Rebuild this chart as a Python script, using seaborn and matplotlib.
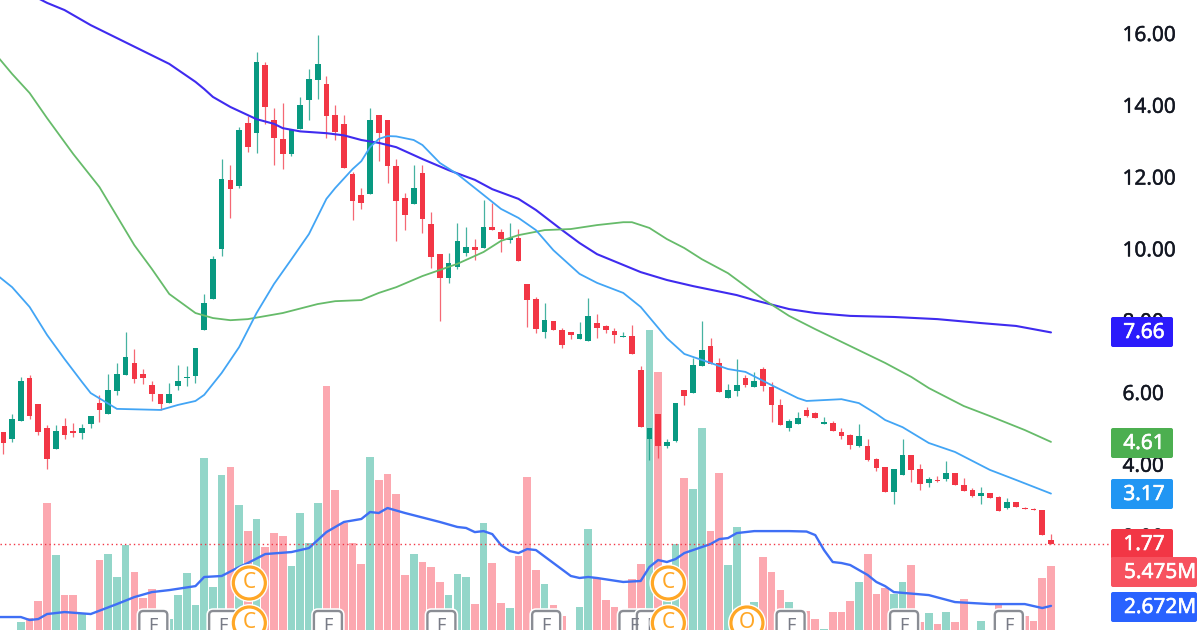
import matplotlib
matplotlib.use("Agg")
import matplotlib.pyplot as plt
import matplotlib.patheffects as pe
from matplotlib.patches import FancyBboxPatch, Circle
from matplotlib.transforms import IdentityTransform
import pandas as pd
import seaborn as sns

opens = [4.89, 4.70, 5.20, 6.40, 5.66, 5.00, 4.42, 5.06, 4.90, 4.85,
         5.10, 5.68, 5.38, 6.04, 6.47, 6.80, 6.49, 6.20, 5.95, 5.70,
         6.17, 6.38, 6.44, 7.73, 8.59, 9.98, 11.91, 11.74, 13.49, 13.21,
         15.11, 13.58, 13.05, 12.63, 13.33, 14.13, 14.69, 14.58, 13.72, 13.47,
         12.07, 11.49, 11.52, 13.72, 13.58, 12.30, 11.40, 11.24, 12.10, 10.68,
         9.84, 9.17, 9.48, 9.87, 10.04, 10.01, 10.60, 10.46, 10.23, 10.29,
         9.01, 8.59, 7.67, 7.98, 7.73, 7.67, 7.48, 7.42, 7.92, 7.84,
         7.70, 7.53, 7.56, 6.61, 4.69, 5.39, 4.49, 4.63, 6.05, 5.97,
         6.72, 7.28, 6.81, 5.83, 6.03, 6.39, 6.14, 6.64, 6.14, 5.64,
         5.00, 5.11, 5.50, 5.41, 5.11, 5.14, 4.88, 4.80, 4.49, 4.49,
         4.13, 3.91, 3.21, 3.69, 4.24, 3.85, 3.46, 3.55, 3.58, 3.74,
         3.41, 3.27, 3.10, 3.19, 3.07, 2.77, 2.93, 2.77, 2.74, 2.71, 1.88]
highs = [4.89, 5.38, 6.43, 6.46, 5.66, 5.09, 5.09, 5.27, 5.13, 5.11,
         5.34, 5.92, 6.49, 6.80, 7.67, 7.21, 6.64, 6.30, 5.95, 6.24,
         6.74, 6.73, 7.23, 8.73, 9.79, 12.49, 12.32, 13.38, 13.69, 15.47,
         15.19, 13.91, 14.05, 13.30, 14.22, 15.00, 15.94, 14.80, 13.99, 13.72,
         12.13, 11.68, 13.91, 13.72, 13.58, 12.49, 11.54, 12.32, 12.32, 11.01,
         9.84, 9.87, 10.71, 10.60, 10.26, 11.35, 11.26, 10.54, 10.71, 10.54,
         9.01, 8.65, 8.48, 7.98, 7.78, 7.67, 7.95, 8.62, 8.17, 7.87,
         7.78, 7.67, 7.87, 6.72, 5.00, 5.39, 4.69, 5.69, 6.05, 6.95,
         7.98, 7.50, 6.95, 6.22, 6.92, 6.47, 6.56, 6.70, 6.28, 5.80,
         5.25, 5.44, 5.58, 5.44, 5.30, 5.19, 5.00, 4.83, 5.11, 4.69,
         4.16, 3.91, 3.85, 4.69, 4.24, 3.99, 3.63, 3.66, 4.08, 3.74,
         3.60, 3.32, 3.35, 3.19, 3.10, 3.05, 2.93, 2.79, 2.77, 2.71, 2.04]
lows = [4.26, 4.61, 5.20, 5.26, 4.79, 3.86, 4.42, 4.70, 4.75, 4.70,
        5.00, 5.16, 5.38, 5.91, 6.47, 6.26, 6.22, 5.76, 5.50, 5.70,
        6.06, 6.17, 6.26, 7.73, 8.59, 9.79, 10.85, 11.68, 12.69, 12.66,
        13.47, 12.32, 12.21, 12.57, 13.33, 13.58, 14.16, 13.08, 13.02, 12.24,
        10.79, 11.10, 11.52, 12.43, 11.82, 10.21, 10.51, 11.24, 10.43, 9.45,
        7.98, 9.04, 9.43, 9.79, 9.68, 10.01, 10.51, 9.90, 10.15, 9.65,
        7.81, 7.64, 7.50, 7.73, 7.22, 7.48, 7.48, 7.42, 7.50, 7.64,
        7.36, 7.53, 7.06, 5.02, 4.10, 4.16, 4.44, 4.61, 5.64, 5.97,
        6.72, 6.78, 6.00, 5.83, 5.89, 6.14, 6.14, 6.03, 5.16, 5.08,
        4.91, 5.11, 5.30, 5.27, 5.11, 4.91, 4.69, 4.41, 4.47, 4.08,
        3.80, 3.21, 2.88, 3.69, 3.49, 3.27, 3.35, 3.49, 3.52, 3.41,
        3.24, 3.07, 2.88, 3.05, 2.68, 2.74, 2.79, 2.74, 2.71, 2.02, 1.77]
closes = [4.57, 5.24, 6.31, 5.34, 4.88, 4.14, 4.90, 4.79, 4.85, 5.00,
          5.34, 5.51, 6.05, 6.49, 6.98, 6.37, 6.38, 5.94, 5.66, 5.95,
          6.30, 6.41, 7.23, 8.49, 9.70, 11.93, 11.65, 13.30, 12.82, 15.19,
          13.94, 13.08, 12.63, 13.30, 13.99, 14.72, 15.14, 13.69, 13.24, 12.24,
          11.32, 11.26, 13.58, 13.21, 12.30, 11.32, 10.93, 11.68, 10.82, 9.76,
          9.17, 9.59, 10.21, 10.04, 9.95, 10.60, 10.51, 10.26, 10.29, 9.65,
          8.56, 7.75, 8.00, 7.73, 7.31, 7.59, 7.61, 8.12, 7.78, 7.73,
          7.59, 7.56, 7.06, 5.02, 5.00, 4.49, 4.61, 5.69, 5.89, 6.75,
          7.17, 6.78, 6.00, 6.05, 6.19, 6.19, 6.31, 6.17, 5.64, 5.08,
          5.19, 5.27, 5.33, 5.27, 5.16, 4.91, 4.77, 4.52, 4.77, 4.10,
          3.88, 3.21, 3.85, 4.24, 3.83, 3.44, 3.58, 3.52, 3.74, 3.41,
          3.24, 3.10, 3.19, 3.05, 2.68, 2.93, 2.79, 2.74, 2.71, 2.02, 1.77]
volumes = [0.30, 0.30, 1.54, 1.82, 3.02, 9.89, 6.24, 3.43, 3.43, 2.17,
           0.28, 5.89, 6.31, 4.70, 6.95, 5.05, 3.22, 3.86, 1.12, 1.75,
           3.43, 4.98, 2.73, 13.05, 4.00, 11.85, 12.42, 9.75, 7.93, 8.77,
           6.80, 7.78, 7.57, 5.47, 9.19, 7.08, 9.89, 18.10, 10.80, 8.49,
           7.08, 5.61, 13.12, 11.50, 11.92, 10.52, 4.84, 6.31, 5.75, 5.40,
           4.35, 3.43, 4.91, 4.70, 2.80, 8.49, 5.68, 2.87, 2.52, 6.17,
           11.71, 5.19, 4.20, 2.73, 1.96, 0.28, 2.59, 8.07, 4.63, 3.08,
           2.59, 1.82, 4.56, 5.61, 22.03, 19.08, 3.08, 7.01, 11.64, 10.87,
           15.15, 7.93, 11.99, 5.54, 8.21, 2.73, 2.94, 6.10, 5.05, 3.78,
           2.94, 1.33, 2.31, 1.75, 1.05, 2.24, 2.24, 3.02, 4.35, 6.31,
           3.50, 3.92, 3.50, 4.35, 5.54, 1.54, 2.17, 1.40, 2.24, 1.54,
           3.15, 0.28, 1.61, 0.28, 2.87, 1.33, 1.33, 1.96, 1.61, 4.63, 5.475]

ma_slow_i = [3, 5, 7, 10, 16, 19, 22, 23, 24, 25, 26, 29, 31, 32, 34, 37, 39, 41, 43, 45, 48, 51,
             54, 56, 59, 61, 64, 66, 68, 71, 73, 76, 79, 80, 84, 86, 90, 93, 97, 102, 107, 112, 116, 120]
ma_slow = [17.09, 16.84, 16.64, 16.22, 15.50, 15.14, 14.64, 14.44, 14.22, 14.08, 13.94, 13.60, 13.47,
           13.35, 13.26, 13.21, 13.15, 13.02, 12.94, 12.82, 12.49, 12.18, 11.91, 11.65, 11.38, 11.07,
           10.51, 10.15, 9.84, 9.54, 9.34, 9.12, 8.95, 8.90, 8.70, 8.56, 8.31, 8.20, 8.12, 8.09, 8.03,
           7.92, 7.84, 7.66]
ma_mid_i = [-1, 1, 3, 5, 8, 11, 13, 15, 17, 19, 22, 24, 26, 28, 32, 36, 38, 41, 43, 45, 48, 50, 52,
            55, 57, 59, 62, 65, 68, 71, 72, 74, 76, 78, 80, 83, 85, 87, 90, 93, 97, 101, 104, 106,
            110, 113, 117, 120]
ma_mid = [15.44, 14.86, 14.33, 13.63, 12.63, 11.71, 10.90, 10.09, 9.43, 8.73, 8.20, 8.06, 8.00, 8.03,
          8.20, 8.45, 8.53, 8.56, 8.76, 8.92, 9.23, 9.40, 9.57, 9.90, 10.21, 10.37, 10.51, 10.54,
          10.65, 10.73, 10.73, 10.57, 10.26, 10.01, 9.70, 9.31, 8.95, 8.59, 8.12, 7.75, 7.28, 6.81,
          6.42, 6.11, 5.61, 5.33, 4.94, 4.61]
ma_fast_i = [-1, 1, 3, 5, 7, 9, 10, 13, 18, 20, 22, 23, 25, 27, 29, 31, 33, 35, 37, 38, 40, 41, 42,
             43, 44, 45, 47, 48, 50, 52, 55, 57, 59, 61, 63, 66, 68, 71, 73, 76, 78, 81, 83, 85, 88,
             91, 92, 96, 98, 100, 101, 103, 106, 109, 113, 116, 120]
ma_fast = [9.31, 8.92, 8.37, 7.59, 6.92, 6.28, 5.97, 5.53, 5.50, 5.64, 5.75, 5.92, 6.53, 7.25, 8.20,
           9.01, 9.70, 10.40, 11.38, 11.68, 12.21, 12.43, 12.82, 13.05, 13.13, 13.12, 13.02, 12.88,
           12.38, 12.07, 11.49, 11.10, 10.85, 10.51, 9.95, 9.29, 9.04, 8.76, 8.37, 7.50, 7.06, 6.81,
           6.64, 6.56, 6.19, 5.83, 5.75, 5.80, 5.69, 5.39, 5.22, 5.02, 4.58, 4.33, 3.83, 3.55, 3.17]
vol_ma_i = [-1, 2, 3, 4, 5, 7, 10, 13, 15, 17, 19, 22, 23, 25, 27, 28, 30, 33, 35, 37, 39, 41, 42, 43,
            44, 46, 50, 52, 53, 54, 55, 56, 57, 58, 59, 60, 61, 65, 66, 67, 68, 71, 73, 74, 75, 76,
            77, 78, 80, 81, 82, 83, 84, 86, 90, 92, 93, 94, 95, 96, 97, 99, 100, 101, 102, 106,
            109, 113, 117, 119, 120]
vol_ma = [1.89, 1.89, 1.68, 1.75, 2.10, 2.24, 2.10, 2.80, 3.29, 3.64, 3.78, 4.06, 4.70, 4.77, 5.40, 5.68,
          6.31, 6.45, 6.73, 7.85, 8.56, 8.77, 9.26, 9.19, 9.54, 9.19, 8.56, 8.21, 8.14, 7.85, 7.92, 7.71,
          6.94, 6.52, 6.38, 6.66, 6.59, 4.77, 4.63, 4.70, 4.63, 4.35, 4.42, 5.40, 5.89, 5.75, 5.96, 6.38,
          6.80, 7.01, 7.36, 7.43, 7.78, 7.92, 7.92, 7.89, 7.64, 6.59, 5.75, 5.68, 5.54, 4.84, 4.35, 4.06,
          3.64, 3.43, 2.94, 2.80, 2.80, 2.52, 2.672]

price_ticks = [2, 4, 6, 8, 10, 12, 14, 16]
earnings_bars = [17, 25, 37, 50, 62, 72, 74, 90, 103, 115]
circle_events = [(28, 583, "C"), (28, 623, "C"), (76, 583, "C"), (76, 623, "C"), (85, 623, "O")]
value_tags = [("7.66", 317, 347, 1173, "#2B1BFB"), ("4.61", 428, 458, 1173, "#4CAF50"),
              ("3.17", 479, 509, 1173, "#2196F3"), ("1.77", 529, 559, 1173, "#F23645"),
              ("5.475M", 557, 587, 1197, "#F7525F"), ("2.672M", 592, 622, 1197, "#2962FF")]

sns.set_theme(style="white")
plt.rcParams["font.family"] = ["Noto Sans", "DejaVu Sans"]

df = pd.DataFrame({"bar": range(len(closes)), "open": opens, "high": highs, "low": lows,
                   "close": closes, "volume": volumes})
df["up"] = df["close"] >= df["open"]

UP, DOWN = "#089981", "#F23645"
fig = plt.figure(figsize=(12, 6.3), dpi=100, facecolor="white")
rect = [0, 0, 1110 / 1200, 1]
ax_vol = fig.add_axes(rect)
ax = fig.add_axes(rect)
ax.patch.set_visible(False)

# volume underneath, bars rise from below the frame
sns.barplot(data=df, x="bar", y="volume", hue="up", palette={True: "#93D6C9", False: "#FCA8B0"},
            native_scale=True, dodge=False, width=0.88, saturation=1, errorbar=None,
            linewidth=0, legend=False, ax=ax_vol)
sns.lineplot(x=vol_ma_i, y=vol_ma, color="#3F6FF5", lw=1.7, errorbar=None, ax=ax_vol)
ax_vol.set_ylim(0.98, 45.19)

# candles
colors = df["up"].map({True: UP, False: DOWN})
ax.vlines(df["bar"], df["low"], df["high"], colors=colors, lw=0.9, alpha=0.75, zorder=2)
ax.bar(df["bar"], (df["close"] - df["open"]).abs(), bottom=df[["open", "close"]].min(axis=1),
       width=0.65, color=colors, linewidth=0, zorder=3)

sns.lineplot(x=ma_slow_i, y=ma_slow, color="#3F2BEF", lw=1.5, errorbar=None, ax=ax, zorder=4)
sns.lineplot(x=ma_mid_i, y=ma_mid, color="#66BB6A", lw=1.3, errorbar=None, ax=ax, zorder=4)
sns.lineplot(x=ma_fast_i, y=ma_fast, color="#42A5F5", lw=1.3, errorbar=None, ax=ax, zorder=4)
ax.axhline(closes[-1], color=DOWN, lw=1, ls=(0, (1, 2.2)), zorder=4)

ax.set_ylim(-0.63, 16.92)
for a in (ax, ax_vol):
    a.set_xlim(-0.39, 126.76)
    a.set_xlabel("")
    a.set_ylabel("")
    sns.despine(ax=a, left=True, bottom=True)
ax_vol.set_xticks([])
ax_vol.set_yticks([])
ax.set_xticks([])
ax.yaxis.tick_right()
ax.set_yticks(price_ticks, [f"{t:.2f}" for t in price_ticks])
ax.tick_params(axis="y", length=0, pad=9, labelsize=15, labelcolor="#131722")
for t in ax.get_yticklabels():
    t.set_path_effects([pe.withStroke(linewidth=0.3, foreground="#131722")])

fig.canvas.draw()
px = IdentityTransform()


def bar_x(i):
    return ax.transData.transform((i, 0))[0]


# earnings flags, cut by the lower edge like the original
for i in earnings_bars:
    x = bar_x(i) + 1.5
    fig.add_artist(FancyBboxPatch((x - 14, 630 - 640), 28, 29, boxstyle="round,pad=0,rounding_size=4",
                                  fc="white", ec="white", lw=4, transform=px, zorder=5))
    fig.add_artist(FancyBboxPatch((x - 14, 630 - 640), 28, 29, boxstyle="round,pad=0,rounding_size=4",
                                  fc="white", ec="#8A8D94", lw=1.7, transform=px, zorder=5))
    fig.text(x, 630 - 617, "F", color="#787B86", fontsize=13, fontweight="bold", ha="center",
             va="top", transform=px, zorder=6)

for i, y, letter in circle_events:
    x = bar_x(i) + 1.5
    fig.add_artist(Circle((x, 630 - y), 19, fc="white", ec="none", transform=px, zorder=7))
    fig.add_artist(Circle((x, 630 - y), 16, fc="white", ec="#FFA726", lw=2.3, transform=px, zorder=7))
    fig.text(x, 630 - y, letter, color="#FFA726", fontsize=15, fontweight="bold", ha="center",
             va="center", transform=px, zorder=8)

# last value tags on the price scale
for label, top, bottom, right, color in value_tags:
    fig.add_artist(FancyBboxPatch((1111, 630 - bottom), right - 1111, bottom - top,
                                  boxstyle="round,pad=0,rounding_size=2", fc=color, ec="none",
                                  transform=px, zorder=9))
    tag = fig.text(1144 if right == 1173 else 1124, 630 - (top + bottom) / 2 - 0.5, label, color="white",
                   fontsize=15, ha="center" if right == 1173 else "left",
                   va="center", transform=px, zorder=10)
    tag.set_path_effects([pe.withStroke(linewidth=0.4, foreground="white")])

fig.savefig("out.png", dpi=100, facecolor="white")
